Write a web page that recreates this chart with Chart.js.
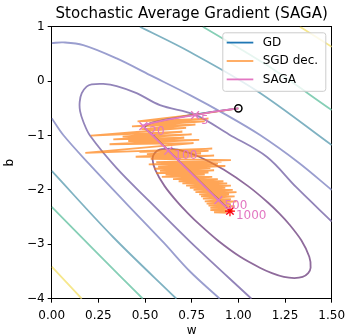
<!DOCTYPE html>
<html>
<head>
<meta charset="utf-8">
<script src="https://cdn.jsdelivr.net/npm/chart.js@4.4.1/dist/chart.umd.min.js"></script>
<style>
  html, body { margin: 0; padding: 0; background: #fff; }
  canvas { display: block; }
</style>
</head>
<body>
<canvas id="chart" width="347" height="334"></canvas>
<script>
// values
const chartTitle = 'Stochastic Average Gradient (SAGA)'
const legendNames = ['GD', 'SGD dec.', 'SAGA']
const xTicks = [0, 0.25, 0.5, 0.75, 1, 1.25, 1.5]
const yTicks = [-4, -3, -2, -1, 0, 1]

const startPoint = [1.0, -0.5]
const optimum = [0.955, -2.39]

// loss contours (w, b), innermost first
const c1W = [0.63, 0.676, 0.745, 0.815, 0.923, 1.052, 1.158, 1.219, 1.272, 1.338, 1.38, 1.387, 1.374, 1.344, 1.30, 1.244, 1.18, 1.115, 1.01, 0.89, 0.79, 0.73, 0.675, 0.605, 0.555, 0.54, 0.55, 0.578, 0.63]
const c1B = [-1.24, -1.26, -1.33, -1.43, -1.63, -1.93, -2.23, -2.43, -2.63, -2.93, -3.23, -3.43, -3.53, -3.60, -3.62, -3.60, -3.53, -3.43, -3.23, -2.93, -2.63, -2.43, -2.23, -1.93, -1.63, -1.43, -1.33, -1.26, -1.24]
const c2W = [1.5, 1.31, 1.152, 0.95, 0.77, 0.58, 0.455, 0.348, 0.276, 0.214, 0.187, 0.161, 0.15, 0.152, 0.17, 0.205, 0.348, 0.527, 0.741, 1.07]
const c2B = [-2.58, -1.95, -1.39, -0.98, -0.62, -0.44, -0.22, -0.09, -0.05, -0.06, -0.10, -0.22, -0.38, -0.55, -0.75, -1.0, -1.60, -2.22, -2.95, -4.0]
const c3TopW = [0, 0.062, 0.169, 0.348, 0.527, 0.741, 0.93, 1.116, 1.32, 1.5]
const c3TopB = [0.70, 0.713, 0.664, 0.419, 0.112, -0.256, -0.61, -0.99, -1.49, -2.0]
const c3LowW = [0, 0.062, 0.2, 0.4, 0.6, 0.741, 0.9]
const c3LowB = [-0.68, -0.99, -1.52, -2.25, -2.97, -3.5, -4.0]
const c4TopW = [0.473, 0.741, 1.1, 1.5]
const c4TopB = [1.0, 0.536, -0.18, -1.175]
const c4LowW = [0, 0.33, 0.668]
const c4LowB = [-1.65, -2.87, -4.0]
const c5TopW = [0.81, 1.15, 1.5]
const c5TopB = [1.0, 0.30, -0.531]
const c5LowW = [0, 0.24, 0.488]
const c5LowB = [-2.31, -3.15, -4.0]
const c6TopW = [1.33, 1.5]
const c6TopB = [1.0, 0.632]
const c6LowW = [0, 0.161]
const c6LowB = [-3.41, -4.0]

// trajectories
const gdW = [1.0, 0.90, 0.80, 0.70, 0.62, 0.56, 0.525, 0.505, 0.50, 0.51, 0.53, 0.58, 0.65, 0.75, 0.85, 0.92, 0.955]
const gdB = [-0.5, -0.545, -0.595, -0.65, -0.70, -0.745, -0.78, -0.82, -0.86, -0.90, -0.95, -1.12, -1.36, -1.69, -2.03, -2.26, -2.38]

const sgdW = [1.00, 0.80, 0.46, 0.84, 0.52, 0.82, 0.43, 0.77, 0.48, 0.72, 0.21, 0.70, 0.38, 0.75, 0.33, 0.71, 0.41, 0.79, 0.31, 0.76,
  0.18, 0.86, 0.47, 0.84, 0.51, 0.80, 0.45, 0.87, 0.53, 0.96, 0.56, 0.91, 0.52, 0.89, 0.57, 0.93, 0.55, 0.85, 0.58, 0.87,
  0.56, 0.84, 0.61, 0.82, 0.59, 0.86, 0.65, 0.89, 0.68, 0.92, 0.70, 0.94, 0.72, 0.96, 0.74, 0.93, 0.76, 0.97, 0.77, 0.99,
  0.79, 0.95, 0.80, 0.98, 0.81, 0.96, 0.82, 0.99, 0.83, 0.96, 0.84, 0.98, 0.85, 0.95, 0.85, 0.97, 0.87, 0.95, 0.89, 0.96]
const sgdB = [-0.50, -0.60, -0.74, -0.69, -0.78, -0.74, -0.83, -0.80, -0.88, -0.86, -1.00, -0.93, -1.02, -0.98, -1.07, -1.04, -1.10, -1.08, -1.16, -1.14,
  -1.32, -1.24, -1.30, -1.28, -1.34, -1.33, -1.39, -1.37, -1.43, -1.45, -1.49, -1.48, -1.53, -1.52, -1.57, -1.56, -1.61, -1.60, -1.65, -1.64,
  -1.69, -1.68, -1.72, -1.72, -1.76, -1.76, -1.80, -1.80, -1.84, -1.84, -1.88, -1.88, -1.92, -1.92, -1.96, -1.96, -2.00, -2.00, -2.04, -2.04,
  -2.08, -2.08, -2.12, -2.12, -2.16, -2.17, -2.21, -2.21, -2.25, -2.26, -2.29, -2.30, -2.33, -2.34, -2.37, -2.38, -2.41, -2.42, -2.40, -2.39]

const sagaW = [1.0, 0.88, 0.768, 0.66, 0.57, 0.515, 0.491, 0.625, 0.893, 0.955]
const sagaB = [-0.5, -0.555, -0.623, -0.685, -0.745, -0.79, -0.825, -1.279, -2.186, -2.382]

const iterLabels = ['5', '20', '100', '500', '1000']
const iterW = [0.768, 0.491, 0.625, 0.893, 0.955]
const iterB = [-0.623, -0.825, -1.279, -2.186, -2.382]

const gdColor = '#1f77b4'
const sgdColor = 'rgba(255,127,14,0.7)'
const sagaColor = '#e377c2'
const contourColors = ['#8f6b9c', '#9284b9', '#9a9ecf', '#7fb2c2', '#86cfb6', '#f6e78c']
const font = "'DejaVu Sans', sans-serif"

Chart.defaults.font.family = font
Chart.defaults.font.size = 12
Chart.defaults.color = '#000'

const pts = (ws, bs) => ws.map((w, i) => ({ x: w, y: bs[i] }))

function contour(ws, bs, color, tension) {
    return {
        data: pts(ws, bs), showLine: true, borderColor: color, borderWidth: 1.8,
        pointRadius: 0, tension: tension, clip: 0, order: 10
    }
}

const overlay = {
    id: 'overlay',
    afterDraw(chart) {
        const { ctx, chartArea: a, scales: { x, y } } = chart
        ctx.save()
        ctx.font = '12px ' + font

        // iteration labels next to the SAGA markers
        ctx.fillStyle = sagaColor
        ctx.textAlign = 'left'
        ctx.textBaseline = 'alphabetic'
        iterLabels.forEach((t, i) => {
            ctx.fillText(t, x.getPixelForValue(iterW[i]) + 6, y.getPixelForValue(iterB[i]) + 8.7)
        })

        // legend box in the upper right corner
        const left = a.right - 109.4, top = a.top + 5.5
        ctx.beginPath()
        ctx.roundRect(left + 0.5, top + 0.5, 103, 58.5, 2.5)
        ctx.fillStyle = 'rgba(255,255,255,0.8)'
        ctx.fill()
        ctx.strokeStyle = '#cccccc'
        ctx.lineWidth = 1
        ctx.stroke()
        const colors = [gdColor, sgdColor, sagaColor]
        legendNames.forEach((name, i) => {
            const ry = top + 10.3 + i * 18.4
            ctx.beginPath()
            ctx.moveTo(left + 4.4, ry)
            ctx.lineTo(left + 31, ry)
            ctx.strokeStyle = colors[i]
            ctx.lineWidth = 1.8
            ctx.stroke()
            ctx.fillStyle = '#000'
            ctx.textBaseline = 'middle'
            ctx.fillText(name, left + 40.4, ry)
        })
        ctx.restore()
    }
}

const tickFont = { family: font, size: 12 }

new Chart(document.getElementById('chart'), {
    type: 'scatter',
    data: {
        datasets: [
            contour(c1W, c1B, contourColors[0], 0.3),
            contour(c2W, c2B, contourColors[1], 0.35),
            contour(c3TopW, c3TopB, contourColors[2], 0.35),
            contour(c3LowW, c3LowB, contourColors[2], 0.35),
            contour(c4TopW, c4TopB, contourColors[3], 0.35),
            contour(c4LowW, c4LowB, contourColors[3], 0.35),
            contour(c5TopW, c5TopB, contourColors[4], 0.35),
            contour(c5LowW, c5LowB, contourColors[4], 0.35),
            contour(c6TopW, c6TopB, contourColors[5], 0.35),
            contour(c6LowW, c6LowB, contourColors[5], 0.35),
            {
                label: legendNames[0], data: pts(gdW, gdB), showLine: true, borderColor: gdColor,
                borderWidth: 1.8, pointRadius: 0, tension: 0.3, order: 3
            },
            {
                label: legendNames[1], data: pts(sgdW, sgdB), showLine: true, borderColor: sgdColor,
                borderWidth: 1.8, pointRadius: 0, tension: 0, order: 2
            },
            {
                label: legendNames[2], data: pts(sagaW, sagaB), showLine: true, borderColor: sagaColor,
                borderWidth: 1.8, pointRadius: 0, tension: 0.2, order: 1
            },
            {
                data: pts(iterW, iterB), pointStyle: 'crossRot', pointRadius: 5.5,
                borderColor: sagaColor, borderWidth: 1.4, order: 0
            },
            {
                data: pts([optimum[0]], [optimum[1]]), pointStyle: 'star', pointRadius: 5,
                borderColor: '#ff0000', borderWidth: 1.2, order: -1
            },
            {
                data: pts([startPoint[0]], [startPoint[1]]), pointStyle: 'circle', pointRadius: 3.6,
                borderColor: '#000', backgroundColor: 'rgba(0,0,0,0)', borderWidth: 1.5, order: -2
            }
        ]
    },
    options: {
        responsive: false,
        animation: false,
        devicePixelRatio: 1,
        events: [],
        layout: { padding: { left: 0, right: 15.3, top: 0, bottom: 0 } },
        plugins: {
            legend: { display: false },
            title: { display: false },
            tooltip: { enabled: false }
        },
        scales: {
            x: {
                type: 'linear', position: 'bottom', min: 0, max: 1.5, z: 1,
                afterBuildTicks: s => { s.ticks = xTicks.map(v => ({ value: v })) },
                afterFit: s => { s.height = 35.3; s.paddingLeft = 0; s.paddingRight = 0 },
                grid: { drawOnChartArea: false, drawTicks: true, tickLength: 4, tickColor: '#000', tickWidth: 1 },
                border: { display: true, color: '#000', width: 1 },
                ticks: { color: '#000', font: tickFont, padding: 6, maxRotation: 0, autoSkip: false,
                    callback: v => v.toFixed(2) },
                title: { display: true, text: 'w', color: '#000', font: { family: font, size: 12, lineHeight: 1 },
                    padding: { top: 0, bottom: -2.5 } }
            },
            xTop: {
                type: 'linear', position: 'top', min: 0, max: 1.5, z: 1,
                afterFit: s => { s.height = 26.8; s.paddingLeft = 0; s.paddingRight = 0 },
                grid: { display: false },
                border: { display: true, color: '#000', width: 1 },
                ticks: { display: false },
                title: { display: true, text: chartTitle, color: '#000', font: { family: font, size: 15, lineHeight: 1.2 },
                    padding: { top: 5.5, bottom: 0 } }
            },
            y: {
                type: 'linear', position: 'left', min: -4, max: 1, z: 1,
                afterBuildTicks: s => { s.ticks = yTicks.map(v => ({ value: v })) },
                afterFit: s => { s.width = 51.7; s.paddingTop = 0; s.paddingBottom = 0 },
                grid: { drawOnChartArea: false, drawTicks: true, tickLength: 4, tickColor: '#000', tickWidth: 1 },
                border: { display: true, color: '#000', width: 1 },
                ticks: { color: '#000', font: tickFont, padding: 3,
                    callback: v => (v < 0 ? '\u2212' + Math.abs(v) : String(v)) },
                title: { display: true, text: 'b', color: '#000', font: { family: font, size: 12, lineHeight: 1.2 },
                    padding: { top: 3, bottom: 0 } }
            },
            yRight: {
                type: 'linear', position: 'right', min: -4, max: 1, z: 1,
                afterFit: s => { s.width = 0; s.paddingTop = 0; s.paddingBottom = 0 },
                grid: { display: false },
                border: { display: true, color: '#000', width: 1 },
                ticks: { display: false }
            }
        }
    },
    plugins: [overlay]
});
</script>
</body>
</html>
